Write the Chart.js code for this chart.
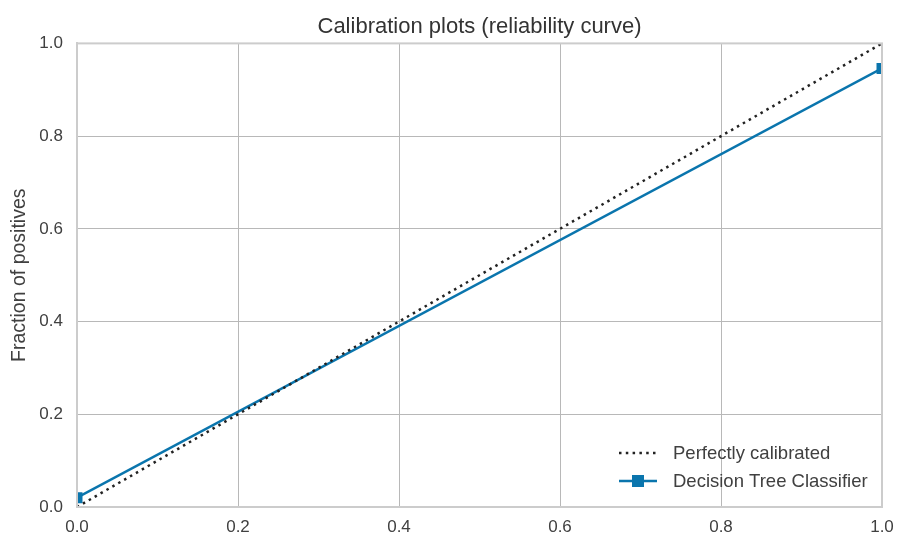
<!DOCTYPE html>
<html>
<head>
<meta charset="utf-8">
<script src="https://cdn.jsdelivr.net/npm/chart.js@4.4.1/dist/chart.umd.min.js"></script>
<style>
  html, body { margin: 0; padding: 0; background: #fff; }
  #wrap { width: 901px; height: 547px; }
</style>
</head>
<body>
<div id="wrap"><canvas id="calib" width="901" height="547"></canvas></div>
<script>
// values
const perfectX = [0, 1];
const perfectY = [0, 1];
const treeX = [0, 1];
const treeY = [0.02, 0.946];
const tickValues = [0, 0.2, 0.4, 0.6, 0.8, 1.0];

const FONT = "'Liberation Sans', Arial, sans-serif";
const TEXT = '#404040';

// legend drawn inside the plot, bottom right (like matplotlib loc='lower right')
const innerLegend = {
  id: 'innerLegend',
  afterDatasetsDraw(chart) {
    const { ctx, chartArea } = chart;
    const rows = chart.data.datasets;
    ctx.save();
    rows.forEach((ds, i) => {
      const y = chartArea.bottom - 54 + i * 28;
      const x0 = chartArea.right - 263;
      const x1 = chartArea.right - 225;
      ctx.strokeStyle = ds.borderColor;
      ctx.lineWidth = ds.borderWidth;
      ctx.setLineDash(ds.borderDash || []);
      ctx.beginPath();
      ctx.moveTo(x0, y);
      ctx.lineTo(x1, y);
      ctx.stroke();
      ctx.setLineDash([]);
      if (ds.pointRadius > 0) {
        const r = ds.pointRadius;
        ctx.fillStyle = ds.pointBackgroundColor;
        ctx.fillRect((x0 + x1) / 2 - r, y - r, r * 2, r * 2);
      }
      ctx.fillStyle = TEXT;
      ctx.font = '18.5px ' + FONT;
      ctx.textBaseline = 'middle';
      ctx.textAlign = 'left';
      ctx.fillText(ds.label, chartArea.right - 209, y + 1);
    });
    ctx.restore();
  }
};

const toPoints = (xs, ys) => xs.map((x, i) => ({ x, y: ys[i] }));

new Chart(document.getElementById('calib'), {
  type: 'line',
  data: {
    datasets: [
      {
        label: 'Perfectly calibrated',
        data: toPoints(perfectX, perfectY),
        borderColor: '#222222',
        borderWidth: 2.5,
        borderDash: [2.5, 4.3],
        pointRadius: 0,
        fill: false,
        clip: 2
      },
      {
        label: 'Decision Tree Classifier',
        data: toPoints(treeX, treeY),
        borderColor: '#0a75ad',
        backgroundColor: '#0a75ad',
        pointBackgroundColor: '#0a75ad',
        pointBorderColor: '#0a75ad',
        borderWidth: 2.5,
        pointStyle: 'rect',
        pointRadius: 6,
        fill: false,
        clip: 0
      }
    ]
  },
  options: {
    responsive: false,
    animation: false,
    layout: { padding: { left: 0, right: 19, top: 0, bottom: 0 } },
    plugins: {
      legend: { display: false },
      tooltip: { enabled: false },
      title: {
        display: true,
        fullSize: false,
        text: 'Calibration plots (reliability curve)',
        color: '#333',
        font: { family: FONT, size: 22, weight: 'normal' },
        padding: { top: 14, bottom: 3 }
      }
    },
    scales: {
      x: {
        type: 'linear',
        min: 0,
        max: 1,
        afterBuildTicks: s => { s.ticks = tickValues.map(v => ({ value: v })); },
        afterFit: s => { s.height = 40; s.paddingRight = 0; s.paddingLeft = 0; },
        ticks: {
          color: TEXT,
          padding: 10,
          font: { family: FONT, size: 17 },
          callback: v => v.toFixed(1)
        },
        grid: { color: '#b8b8b8', lineWidth: 1, drawTicks: false },
        border: { color: '#cccccc', width: 2 }
      },
      y: {
        type: 'linear',
        min: 0,
        max: 1,
        afterBuildTicks: s => { s.ticks = tickValues.map(v => ({ value: v })); },
        afterFit: s => { s.width = 77; s.paddingTop = 0; s.paddingBottom = 0; },
        ticks: {
          color: TEXT,
          padding: 14,
          font: { family: FONT, size: 17 },
          callback: v => v.toFixed(1)
        },
        title: {
          display: true,
          text: 'Fraction of positives',
          color: TEXT,
          font: { family: FONT, size: 19.5 },
          padding: { top: 8, bottom: 0 }
        },
        grid: { color: '#b8b8b8', lineWidth: 1, drawTicks: false },
        border: { color: '#cccccc', width: 2 }
      }
    }
  },
  plugins: [innerLegend, {
    id: 'frame',
    afterDraw(chart) {
      // top and right edges of the axes frame
      const { ctx, chartArea: a } = chart;
      ctx.save();
      ctx.strokeStyle = '#cccccc';
      ctx.lineWidth = 2;
      ctx.strokeRect(a.left, a.top, a.right - a.left, a.bottom - a.top);
      ctx.restore();
    }
  }]
});
</script>
</body>
</html>
